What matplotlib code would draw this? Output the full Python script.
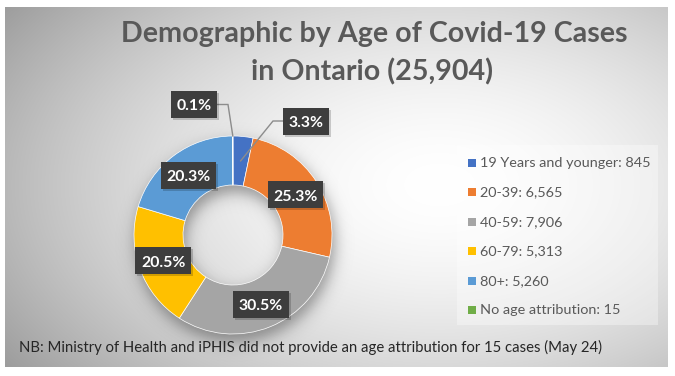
import numpy as np
import matplotlib
matplotlib.use("Agg")
import matplotlib.pyplot as plt
from matplotlib.patches import Rectangle

# ---------------- data ----------------
categories = ["19 Years and younger", "20-39", "40-59", "60-79", "80+", "No age attribution"]
cases = [845, 6565, 7906, 5313, 5260, 15]
colors = ["#4472C4", "#ED7D31", "#A5A5A5", "#FFC000", "#5B9BD5", "#70AD47"]
title_lines = ["Demographic by Age of Covid-19 Cases", "in Ontario (25,904)"]
footnote = "NB: Ministry of Health and iPHIS did not provide an age attribution for 15 cases (May 24)"

plt.rcParams['font.family'] = ['Lato', 'DejaVu Sans']

W, H = 675, 376
fig = plt.figure(figsize=(6.75, 3.76), dpi=100)
ax = fig.add_axes([0, 0, 1, 1])


def py(y):
    return H - y


# ---------------- background panel (radial gradient) ----------------
x0, x1, y0, y1 = 5, 668, 7, 367
xs = np.linspace(x0, x1, 500)
ys = np.linspace(y0, y1, 280)
X, Y = np.meshgrid(xs, ys)
d = np.sqrt(((X - 440) / 400) ** 2 + ((Y - 185) / 240) ** 2)
v = 1 - 0.24 * np.clip(d, 0, 1.4) ** 1.7
ax.imshow(np.dstack([v, v, v]), extent=[x0, x1, py(y1), py(y0)], origin='upper',
          aspect='auto', zorder=0, interpolation='bilinear')

# ---------------- donut ----------------
CX, CY = 233, 235
R, RW = 99, 49
r_in = R - RW

# soft shadow of the ring, offset downward
sx = np.linspace(110, 360, 320)
sy = np.linspace(110, 370, 330)
SX, SY = np.meshgrid(sx, sy)
dd = np.hypot(SX - (CX + 2), SY - (CY + 7))
sig = lambda z: 1 / (1 + np.exp(-z))
alpha = 0.36 * (sig((R + 1 - dd) / 4.5) - sig((r_in - 1 - dd) / 4.5))
sh = np.zeros(SX.shape + (4,))
sh[..., 3] = alpha
ax.imshow(sh, extent=[110, 360, py(370), py(110)], origin='upper', aspect='auto',
          zorder=1, interpolation='bilinear')

wedges, _ = ax.pie(cases, colors=colors, startangle=90, counterclock=False,
                   center=(CX, py(CY)), radius=R, frame=True,
                   wedgeprops=dict(width=RW, edgecolor='white', linewidth=0.5, zorder=2))

ax.set_xlim(0, W)
ax.set_ylim(0, H)
ax.set_aspect('equal')
ax.axis('off')

fig.canvas.draw()
rend = fig.canvas.get_renderer()


def fit(t, target):
    bb = t.get_window_extent(rend)
    t.set_fontsize(t.get_fontsize() * target / bb.width)
    return t


# ---------------- title ----------------
t1 = ax.text(374, py(42), title_lines[0], ha='center', va='baseline', fontsize=20,
             fontweight='bold', color='#595959', zorder=5)
fit(t1, 506)
t2 = ax.text(372, py(80), title_lines[1], ha='center', va='baseline',
             fontsize=t1.get_fontsize(), fontweight='bold', color='#595959', zorder=5)

# ---------------- footnote ----------------
fn = ax.text(19, py(352), footnote, ha='left', va='baseline', fontsize=10,
             color='#262626', zorder=5)
fit(fn, 582)

# ---------------- data labels ----------------
total = sum(cases)
labels = [f"{100 * c / total:.1f}%" for c in cases]
# outside label box centres for the two small slices (pixel coords) and leader elbows
outside = {0: ((306, 121), 'left', 273), 5: ((194, 104.5), 'right', 228)}

ref = ax.text(0, 0, "25.3%", fontsize=12, fontweight='bold')
fit(ref, 44.5)
lab_fs = ref.get_fontsize()
ref.remove()
px_size = lab_fs * 100 / 72

for i, (w, lab) in enumerate(zip(wedges, labels)):
    mid = np.deg2rad((w.theta1 + w.theta2) / 2)
    if i in outside:
        (bx, by), side, elbow = outside[i]
        bx, by = bx, py(by)
        rr = (R + r_in) / 2 if i == 0 else R
        ax_ = CX + rr * np.cos(mid)
        ay_ = py(CY) + rr * np.sin(mid)
    else:
        rr = (R + r_in) / 2
        bx = CX + rr * np.cos(mid)
        by = py(CY) + rr * np.sin(mid)
    t = ax.text(bx, by - 0.36 * px_size, lab, ha='center', va='baseline', fontsize=lab_fs,
                fontweight='bold', color='white', zorder=7)
    tw = t.get_window_extent(rend).width
    bw, bh = tw + 11, 27
    ax.add_patch(Rectangle((bx - bw / 2 + 2, by - bh / 2 - 2), bw, bh, facecolor='black',
                           alpha=0.18, edgecolor='none', zorder=5))
    ax.add_patch(Rectangle((bx - bw / 2, by - bh / 2), bw, bh, facecolor='#3d3d3d',
                           edgecolor='none', zorder=6))
    if i in outside:
        ex = bx - bw / 2 if side == 'left' else bx + bw / 2
        ax.plot([ex, elbow, ax_], [by, by, ay_], color='#8c8c8c', lw=1, zorder=4,
                solid_joinstyle='miter')

# ---------------- legend ----------------
ax.add_patch(Rectangle((457, py(325)), 201, 180, facecolor='white', alpha=0.35,
                       edgecolor='none', zorder=3))
leg_y = [162.5, 192, 221.5, 251, 280.5, 310]
leg_texts = []
for cat, val, col, yy in zip(categories, cases, colors, leg_y):
    ax.add_patch(Rectangle((468, py(yy) - 4), 8, 8, facecolor=col, edgecolor='none', zorder=5))
    lt = ax.text(480, py(yy + 4.5), f"{cat}: {val:,}", ha='left', va='baseline', fontsize=10,
                 color='#595959', zorder=5)
    leg_texts.append(lt)
fit(leg_texts[0], 170)
for lt in leg_texts[1:]:
    lt.set_fontsize(leg_texts[0].get_fontsize())

fig.savefig("out.png", dpi=100)
